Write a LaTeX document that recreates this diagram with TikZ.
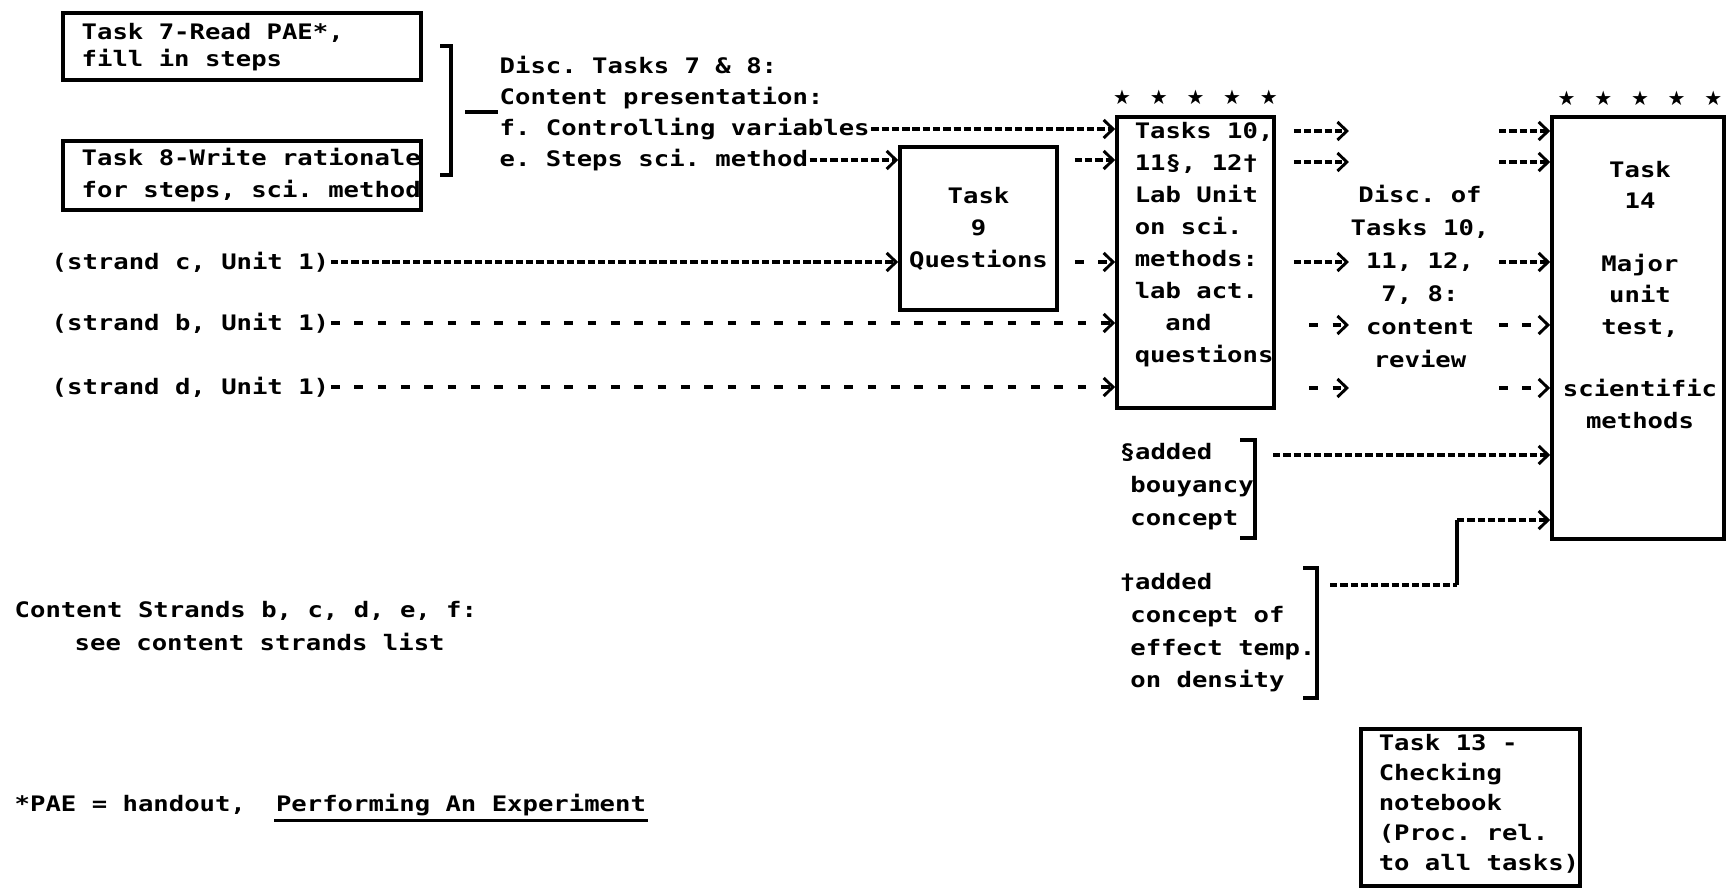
\documentclass[tikz,border=0pt]{standalone}
\usepackage{fontspec}
\setmainfont{DejaVu Sans Mono}[FakeStretch=1.2]
\newfontfamily\symfont{DejaVu Sans}
\usetikzlibrary{arrows.meta,positioning}

\newcommand\typew[1]{\fontsize{16}{#1}\selectfont\bfseries\frenchspacing}
\newcommand\onestar{\makebox[27.5pt]{★}}
\newcommand\starrow{{\symfont\fontsize{15}{15}\selectfont\onestar\onestar\onestar\onestar\onestar}}

\tikzset{every picture/.style={line width=2.6pt}}
\tikzset{
  box/.style={draw, line width=2.8pt, inner sep=0pt, align=center},
  txt/.style={inner sep=0pt, align=left, anchor=west},
  tip/.style={-{Straight Barb[length=7pt,width=13.5pt,line width=2.2pt]}},
  dense/.style={tip, dash pattern=on 5.5pt off 2.2pt},
  sparse/.style={tip, dash pattern=on 6.5pt off 11pt},
}

\begin{document}
\begin{tikzpicture}[x=0.75pt,y=0.75pt,yscale=-1,xscale=1,font=\typew{24pt}]
\useasboundingbox (0,0) rectangle (1733,895);

%Boxes
\node[box, minimum width=268.5pt, minimum height=50.25pt] (tsk7) at (242,46.5) {};
\node[box, minimum width=268.5pt, minimum height=51.75pt] (tsk8) at (242,175.5) {};
\node[box, minimum width=117.75pt, minimum height=122.25pt] (tsk9) at (978.5,228.5) {Task\\9\\Questions};
\node[box, minimum width=117.75pt, minimum height=218.25pt] (lab) at (1195.5,262.5) {};
\node[box, minimum width=129pt, minimum height=316.5pt] (tsk14) at (1638,328) {};
\node[box, minimum width=164.25pt, minimum height=117.75pt] (tsk13) at (1470.5,807.5) {};

% Text Node
\node[txt, font=\typew{20.25pt}] (tsk7txt) at (80,47.5) {Task 7-Read PAE*,\\fill in steps};
\node[txt] (tsk8txt) at (80,175) {Task 8-Write rationale\\for steps, sci. method};

%Bracket round tasks 7 and 8
\draw (440,46) -- (451,46) -- (451,175) -- (440,175);
\coordinate (brk1) at (465,112);

% Text Node
\node[txt, font=\typew{23.25pt}] (discA) at (498,82.5) {Disc. Tasks 7 \& 8:\\Content presentation:};
\node[txt] (ctrl) at (498,129) {f. Controlling variables};
\node[txt] (steps) at (498,160) {e. Steps sci. method};
\draw (brk1) -- (brk1 -| discA.west);

% Text Node
\node[txt] (strc) at (50,262) {(strand c, Unit 1)};
\node[txt] (strb) at (50,323) {(strand b, Unit 1)};
\node[txt] (strd) at (50,387) {(strand d, Unit 1)};

%Dashed Lines into tasks 9 and 10
\draw[dense] (ctrl.east) -- (ctrl.east -| lab.west);
\draw[dense] (steps.east) -- (steps.east -| tsk9.west);
\draw[dense] (strc.east) -- (strc.east -| tsk9.west);
\draw[sparse] (strb.east) -- (strb.east -| lab.west);
\draw[sparse] (strd.east) -- (strd.east -| lab.west);
\draw[dense] ([xshift=12pt]tsk9.east |- steps.east) -- (steps.east -| lab.west);
\draw[sparse] ([xshift=12pt]tsk9.east |- strc.east) -- (strc.east -| lab.west);

% Text Node
\node[inner sep=0pt] (star1) at (1195.5,97) {\starrow};
\node[inner sep=0pt] (star2) at (1640,98) {\starrow};
\node[txt] (labtxt) at (1133,245) {Tasks 10,\\11§, 12†\\Lab Unit\\on sci.\\methods:\\lab act.\\\hspace*{23pt}and\\questions};
\node[align=center, inner sep=0pt, font=\typew{24.75pt}] (rev) at (1420,276) {Disc. of\\Tasks 10,\\11, 12,\\7, 8:\\content\\review};
\node[align=center, inner sep=0pt, font=\typew{23.5pt}] (tsk14txt) at (1640,295) {Task\\14\\[23.5pt]Major\\unit\\test,\\[23.5pt]scientific\\methods};

%Dashed Lines through the review
\foreach \y/\dsh/\gap in {131/dense/13.5pt, 162/dense/13.5pt, 262/dense/13.5pt, 325/sparse/25pt, 388/sparse/25pt}{
  \draw[\dsh] ([xshift=\gap]lab.east |- 0,\y) -- (rev.west |- 0,\y);
  \draw[\dsh] ([xshift=6pt]rev.east |- 0,\y) -- (tsk14.west |- 0,\y);
}

% Text Node
\node[txt, font=\typew{24.75pt}] (buoy) at (1118,487) {§added\\\hspace*{8pt}bouyancy\\\hspace*{8pt}concept};
\draw (1240,440) -- (1255,440) -- (1255,538) -- (1240,538);
\coordinate (buoyout) at (1273,455);
\draw[dense] (buoyout) -- (buoyout -| tsk14.west);

% Text Node
\node[txt, font=\typew{24.5pt}] (dens) at (1118,633) {†added\\\hspace*{8pt}concept of\\\hspace*{8pt}effect temp.\\\hspace*{8pt}on density};
\draw (1303,568) -- (1317,568) -- (1317,698) -- (1303,698);
\coordinate (densout) at (1330,585);
\coordinate (bendlo) at (1457,585);
\coordinate (bendhi) at (1457,520);
\draw[dash pattern=on 5.5pt off 2.2pt] (densout) -- (bendlo);
\draw (bendlo) -- (bendhi);
\draw[dense] (bendhi) -- (bendhi -| tsk14.west);

% Text Node
\node[txt, font=\typew{22.5pt}] (tsk13txt) at (1377,804) {Task 13 -\\Checking\\notebook\\(Proc. rel.\\to all tasks)};
\node[txt, font=\typew{24.75pt}] (strands) at (13,626) {Content Strands b, c, d, e, f:\\\hspace*{45pt}see content strands list};
\node[txt] (pae) at (13,805) {*PAE = handout,};
\node[txt, inner ysep=2pt, base right=20pt of pae] (paeexp) {Performing An Experiment};
\draw (paeexp.south west) -- (paeexp.south east);

\end{tikzpicture}
\end{document}
